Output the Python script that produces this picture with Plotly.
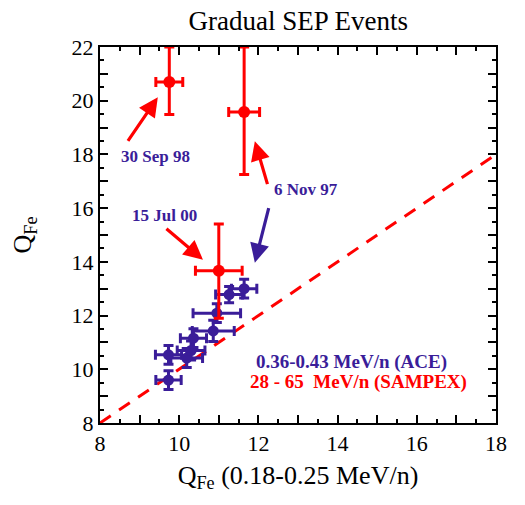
import plotly.graph_objects as go

# ACE (blue) points
ace_x = [9.73, 9.73, 10.19, 10.30, 10.36, 10.86, 10.95, 11.26, 11.64]
ace_y = [10.54, 9.60, 10.42, 10.70, 11.16, 11.43, 12.09, 12.78, 13.00]
ace_xerr = [0.33, 0.32, 0.40, 0.35, 0.33, 0.53, 0.60, 0.34, 0.32]
ace_yerr = [0.35, 0.35, 0.35, 0.35, 0.35, 0.40, 0.35, 0.30, 0.35]

# SAMPEX (red) points
sam_x = [9.75, 11.64, 11.00]
sam_y = [20.70, 19.58, 13.67]
sam_xerr = [0.34, 0.39, 0.59]
sam_yerr_plus = [1.30, 2.42, 1.74]
sam_yerr_minus = [1.21, 2.33, 1.77]

# reference line y = x
line_x = [8, 18]
line_y = [8, 18]

# event labels and pointer arrows (tail -> head, data coords)
event_labels = ["30 Sep 98", "15 Jul 00", "6 Nov 97"]
event_label_x = [9.39, 9.64, 13.2]
event_label_y = [17.93, 15.72, 16.69]
arrow_tail_x = [8.68, 12.24, 12.27, 9.64]
arrow_tail_y = [18.45, 16.84, 16.06, 15.28]
arrow_head_x = [9.46, 11.91, 11.91, 10.60]
arrow_head_y = [20.13, 18.49, 13.97, 14.08]
arrow_colors = ["red", "red", "blue", "red"]

x_ticks = [8, 9, 10, 11, 12, 13, 14, 15, 16, 17, 18]
y_ticks = [8, 9, 10, 11, 12, 13, 14, 15, 16, 17, 18, 19, 20, 21, 22]

BLUE = "#3a1d99"
RED = "#ff0000"
SERIF = "Liberation Serif, Times New Roman, serif"

fig = go.Figure()
fig.add_trace(go.Scatter(
    x=line_x, y=line_y, mode="lines",
    line=dict(color=RED, width=3, dash="13px,10px"),
    hoverinfo="skip", showlegend=False))

fig.add_trace(go.Scatter(
    x=ace_x, y=ace_y, mode="markers",
    marker=dict(color=BLUE, size=11),
    error_x=dict(type="data", array=ace_xerr, color=BLUE, thickness=3, width=5),
    error_y=dict(type="data", array=ace_yerr, color=BLUE, thickness=3, width=5),
    showlegend=False))
fig.add_trace(go.Scatter(
    x=sam_x, y=sam_y, mode="markers",
    marker=dict(color=RED, size=12),
    error_x=dict(type="data", array=sam_xerr, color=RED, thickness=3, width=5),
    error_y=dict(type="data", symmetric=False, array=sam_yerr_plus,
                 arrayminus=sam_yerr_minus, color=RED, thickness=3, width=5),
    showlegend=False, cliponaxis=True))

def lbl(v):
    return str(v) if v % 2 == 0 else ""

axis_common = dict(
    showline=True, linecolor="black", linewidth=2, mirror="allticks",
    ticks="inside", ticklen=8, tickwidth=1.5, tickcolor="black",
    showgrid=False, zeroline=False,
    tickfont=dict(family=SERIF, size=22, color="black"),
    minor=dict(dtick=0.5, ticks="inside", ticklen=4, tickwidth=1.5, tickcolor="black", showgrid=False),
)
fig.update_xaxes(range=[8, 18], tickvals=x_ticks, ticktext=[lbl(v) for v in x_ticks],
                 title=dict(text="Q<sub>Fe</sub> (0.18-0.25 MeV/n)",
                            font=dict(family=SERIF, size=26, color="black"), standoff=10),
                 **axis_common)
fig.update_yaxes(range=[8, 22], tickvals=y_ticks, ticktext=[lbl(v) for v in y_ticks],
                 title=dict(text="Q<sub>Fe</sub>",
                            font=dict(family=SERIF, size=26, color="black"), standoff=32),
                 **axis_common)

ann_font = dict(family=SERIF, size=17, color=BLUE)
for t, x, y in zip(event_labels, event_label_x, event_label_y):
    fig.add_annotation(x=x, y=y, text="<b>" + t + "</b>", showarrow=False,
                       font=ann_font, xref="x", yref="y")

for tx, ty, hx, hy, c in zip(arrow_tail_x, arrow_tail_y, arrow_head_x, arrow_head_y, arrow_colors):
    col = RED if c == "red" else BLUE
    fig.add_annotation(x=hx, y=hy, ax=tx, ay=ty, xref="x", yref="y", axref="x", ayref="y",
                       text="", showarrow=True, arrowhead=2, arrowsize=1.2,
                       arrowwidth=3.2, arrowcolor=col)

fig.add_annotation(x=14.34, y=10.28, text="<b>0.36-0.43 MeV/n (ACE)</b>", showarrow=False,
                   xanchor="center", font=dict(family=SERIF, size=19, color=BLUE))
fig.add_annotation(x=14.52, y=9.53, text="<b>28 - 65  MeV/n (SAMPEX)</b>", showarrow=False,
                   xanchor="center", font=dict(family=SERIF, size=19, color=RED))

fig.update_layout(
    width=525, height=505,
    margin=dict(l=100, r=29, t=47, b=82),
    paper_bgcolor="white", plot_bgcolor="white",
    title=dict(text="Gradual SEP Events", x=0.568, xanchor="center", y=0.96, yanchor="middle",
               font=dict(family=SERIF, size=27, color="black")),
)

fig.write_html("out.html")
